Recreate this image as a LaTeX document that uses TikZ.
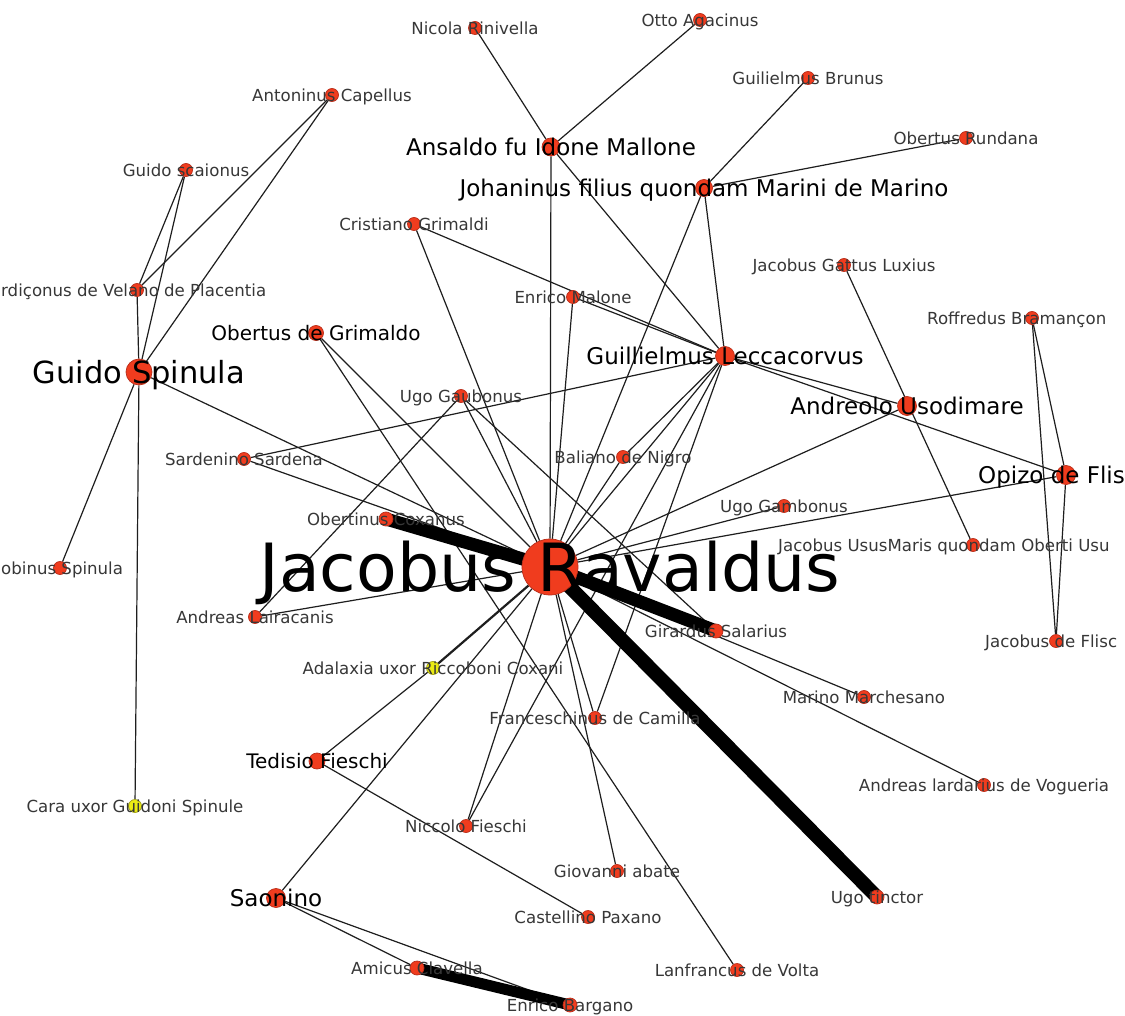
\documentclass[tikz,border=0pt]{standalone}
\usepackage{fontspec}
\setmainfont{DejaVu Sans}

\definecolor{nodered}{RGB}{240,60,30}
\definecolor{noderim}{RGB}{185,45,25}
\definecolor{nodeyellow}{RGB}{235,235,20}
\definecolor{yellowrim}{RGB}{160,160,20}
\definecolor{labelgray}{RGB}{55,55,55}
\definecolor{edgegray}{RGB}{30,30,30}

\pgfdeclarelayer{paper}
\pgfdeclarelayer{links}
\pgfsetlayers{paper,links,main}

\begin{document}
\begin{tikzpicture}[
    x=1pt, y=-1pt,
    person/.style={circle, fill=nodered, draw=noderim, line width=0.7pt, inner sep=0pt, minimum size=13pt},
    wife/.style={person, fill=nodeyellow, draw=yellowrim},
    smalltext/.style={text=labelgray, inner sep=0pt, text height=12.1pt, text depth=0pt, font=\fontsize{16.6}{20}\selectfont},
    grimtext/.style={text=black, inner sep=0pt, text height=14.6pt, text depth=0pt, font=\fontsize{20}{24}\selectfont},
    midtext/.style={text=black, inner sep=0pt, text height=16.8pt, text depth=0pt, font=\fontsize{23}{27}\selectfont},
    bigtext/.style={text=black, inner sep=0pt, text height=22.2pt, text depth=0pt, font=\fontsize{30.5}{36}\selectfont},
    hugetext/.style={text=black, inner sep=0pt, text height=48.5pt, text depth=0pt, font=\fontsize{66.5}{76}\selectfont},
    link/.style={draw=edgegray, line width=1.2pt},
    heavylink/.style={draw=black, line width=#1}
]

\useasboundingbox (0,0) rectangle (1125,1016);
\clip (0,0) rectangle (1125,1016);
\begin{pgfonlayer}{paper}
\fill[white] (0,0) rectangle (1125,1016);
\end{pgfonlayer}

% Central figure
\node[person, minimum size=56pt, label={[hugetext]center:Jacobus Ravaldus}] (ravaldus) at (550,567) {};

% Larger figures
\node[person, minimum size=26pt, label={[bigtext]center:Guido Spinula}] (spinula) at (139,372) {};
\node[person, minimum size=18pt, label={[midtext]center:Ansaldo fu Idone Mallone}] (ansaldo) at (551,147) {};
\node[person, minimum size=17pt, label={[midtext]center:Johaninus filius quondam Marini de Marino}] (johaninus) at (704,188) {};
\node[person, minimum size=19pt, label={[midtext]center:Guillielmus Leccacorvus}] (leccacorvus) at (725,356) {};
\node[person, minimum size=19pt, label={[midtext]center:Andreolo Usodimare}] (usodimare) at (907,406) {};
\node[person, minimum size=19pt] (opizo) at (1066,475) {};
\node[midtext, anchor=west] (opizo-name) at (978,475) {Opizo de Flis};
\node[person, minimum size=19pt, label={[midtext]center:Saonino}] (saonino) at (276,898) {};
\node[person, minimum size=15pt, label={[grimtext]center:Obertus de Grimaldo}] (grimaldo) at (316,333) {};
\node[person, minimum size=16pt, label={[grimtext]center:Tedisio Fieschi}] (tedisio) at (317,761) {};

% Top
\node[person, label={[smalltext]center:Nicola Rinivella}] (rinivella) at (475,28) {};
\node[person, label={[smalltext]center:Otto Agacinus}] (agacinus) at (700,20) {};
\node[person, label={[smalltext]center:Guilielmus Brunus}] (brunus) at (808,78) {};
\node[person, label={[smalltext]center:Obertus Rundana}] (rundana) at (966,138) {};
\node[person, label={[smalltext]center:Antoninus Capellus}] (capellus) at (332,95) {};
\node[person, label={[smalltext]center:Guido scaionus}] (scaionus) at (186,170) {};
\node[person, label={[smalltext]center:Cristiano Grimaldi}] (cristiano) at (414,224) {};
\node[person, label={[smalltext]center:Enrico Malone}] (malone) at (573,297) {};
\node[person, label={[smalltext]center:Jacobus Gattus Luxius}] (gattus) at (844,265) {};
\node[person] (roffredus) at (1032,318) {};
\node[smalltext, anchor=west] (roffredus-name) at (927,318) {Roffredus Bramançon};
\node[person] (velano) at (137,290) {};
\node[smalltext, anchor=west] (velano-name) at (1,290) {rdiçonus de Velano de Placentia};

% Middle
\node[person, label={[smalltext]center:Ugo Gaubonus}] (gaubonus) at (461,396) {};
\node[person, label={[smalltext]center:Baliano de Nigro}] (nigro) at (623,457) {};
\node[person, label={[smalltext]center:Sardenino Sardena}] (sardena) at (244,459) {};
\node[person, label={[smalltext]center:Ugo Gambonus}] (gambonus) at (784,506) {};
\node[person, minimum size=14pt, label={[smalltext]center:Obertinus Coxanus}] (coxanus) at (386,519) {};
\node[person] (ususmaris) at (973,545) {};
\node[smalltext, anchor=west] (ususmaris-name) at (778,545) {Jacobus UsusMaris quondam Oberti Usu};
\node[person] (jacobinus) at (60,568) {};
\node[smalltext, anchor=west] (jacobinus-name) at (1,568) {obinus Spinula};
\node[person, label={[smalltext]center:Andreas Lairacanis}] (lairacanis) at (255,617) {};
\node[person, minimum size=14pt, label={[smalltext]center:Girardus Salarius}] (salarius) at (716,631) {};
\node[person] (flisco) at (1056,641) {};
\node[smalltext, anchor=west] (flisco-name) at (985,641) {Jacobus de Flisc};
\node[wife, label={[smalltext]center:Adalaxia uxor Riccoboni Coxani}] (adalaxia) at (433,668) {};
\node[person, label={[smalltext]center:Marino Marchesano}] (marchesano) at (864,697) {};
\node[person, label={[smalltext]center:Franceschinus de Camilla}] (camilla) at (595,718) {};

% Bottom
\node[person, label={[smalltext]center:Andreas lardarius de Vogueria}] (vogueria) at (984,785) {};
\node[wife, label={[smalltext]center:Cara uxor Guidoni Spinule}] (cara) at (135,806) {};
\node[person, label={[smalltext]center:Niccolo Fieschi}] (niccolo) at (466,826) {};
\node[person, label={[smalltext]center:Giovanni abate}] (abate) at (617,871) {};
\node[person, minimum size=14pt, label={[smalltext]center:Ugo tinctor}] (tinctor) at (877,897) {};
\node[person, label={[smalltext]center:Castellino Paxano}] (paxano) at (588,917) {};
\node[person, minimum size=14pt, label={[smalltext]center:Amicus Clavella}] (clavella) at (417,968) {};
\node[person, minimum size=14pt, label={[smalltext]center:Enrico Bargano}] (bargano) at (570,1005) {};
\node[person, label={[smalltext]center:Lanfrancus de Volta}] (volta) at (737,970) {};

% Links
\begin{pgfonlayer}{links}
\draw[link] (spinula) -- (velano);
\draw[link] (spinula) -- (scaionus);
\draw[link] (spinula) -- (capellus);
\draw[link] (velano) -- (scaionus);
\draw[link] (velano) -- (capellus);
\draw[link] (spinula) -- (jacobinus);
\draw[link] (spinula) -- (cara);
\draw[link] (spinula) -- (ravaldus);
\draw[link] (sardena) -- (leccacorvus);
\draw[link] (sardena) -- (ravaldus);
\draw[link] (grimaldo) -- (ravaldus);
\draw[link] (grimaldo) -- (volta);
\draw[link] (gaubonus) -- (ravaldus);
\draw[link] (gaubonus) -- (lairacanis);
\draw[link] (gaubonus) -- (salarius);
\draw[link] (cristiano) -- (leccacorvus);
\draw[link] (cristiano) -- (ravaldus);
\draw[link] (malone) -- (leccacorvus);
\draw[link] (malone) -- (ravaldus);
\draw[link] (rinivella) -- (ansaldo);
\draw[link] (agacinus) -- (ansaldo);
\draw[link] (ansaldo) -- (ravaldus);
\draw[link] (ansaldo) -- (leccacorvus);
\draw[link] (brunus) -- (johaninus);
\draw[link] (rundana) -- (johaninus);
\draw[link] (johaninus) -- (leccacorvus);
\draw[link] (johaninus) -- (ravaldus);
\draw[link] (leccacorvus) -- (usodimare);
\draw[link] (leccacorvus) -- (opizo);
\draw[link] (leccacorvus) -- (nigro);
\draw[link] (leccacorvus) -- (ravaldus);
\draw[link] (leccacorvus) -- (niccolo);
\draw[link] (leccacorvus) -- (camilla);
\draw[link] (nigro) -- (ravaldus);
\draw[link] (gattus) -- (ususmaris);
\draw[link] (roffredus) -- (opizo);
\draw[link] (roffredus) -- (flisco);
\draw[link] (opizo) -- (flisco);
\draw[link] (usodimare) -- (ravaldus);
\draw[link] (opizo) -- (ravaldus);
\draw[link] (gambonus) -- (ravaldus);
\draw[link] (lairacanis) -- (ravaldus);
\draw[link, line width=2.2pt] (adalaxia) -- (ravaldus);
\draw[link] (tedisio) -- (adalaxia);
\draw[link] (tedisio) -- (paxano);
\draw[link] (saonino) -- (ravaldus);
\draw[link] (saonino) -- (clavella);
\draw[link] (saonino) -- (bargano);
\draw[link] (niccolo) -- (ravaldus);
\draw[link] (camilla) -- (ravaldus);
\draw[link] (abate) -- (ravaldus);
\draw[link] (marchesano) -- (ravaldus);
\draw[link] (vogueria) -- (ravaldus);
\draw[heavylink=13pt] (coxanus.center) -- (ravaldus.center);
\draw[heavylink=13pt] (salarius.center) -- (ravaldus.center);
\draw[heavylink=14pt] (tinctor.center) -- (ravaldus.center);
\draw[heavylink=11pt] (clavella.center) -- (bargano.center);
\end{pgfonlayer}

\end{tikzpicture}
\end{document}
